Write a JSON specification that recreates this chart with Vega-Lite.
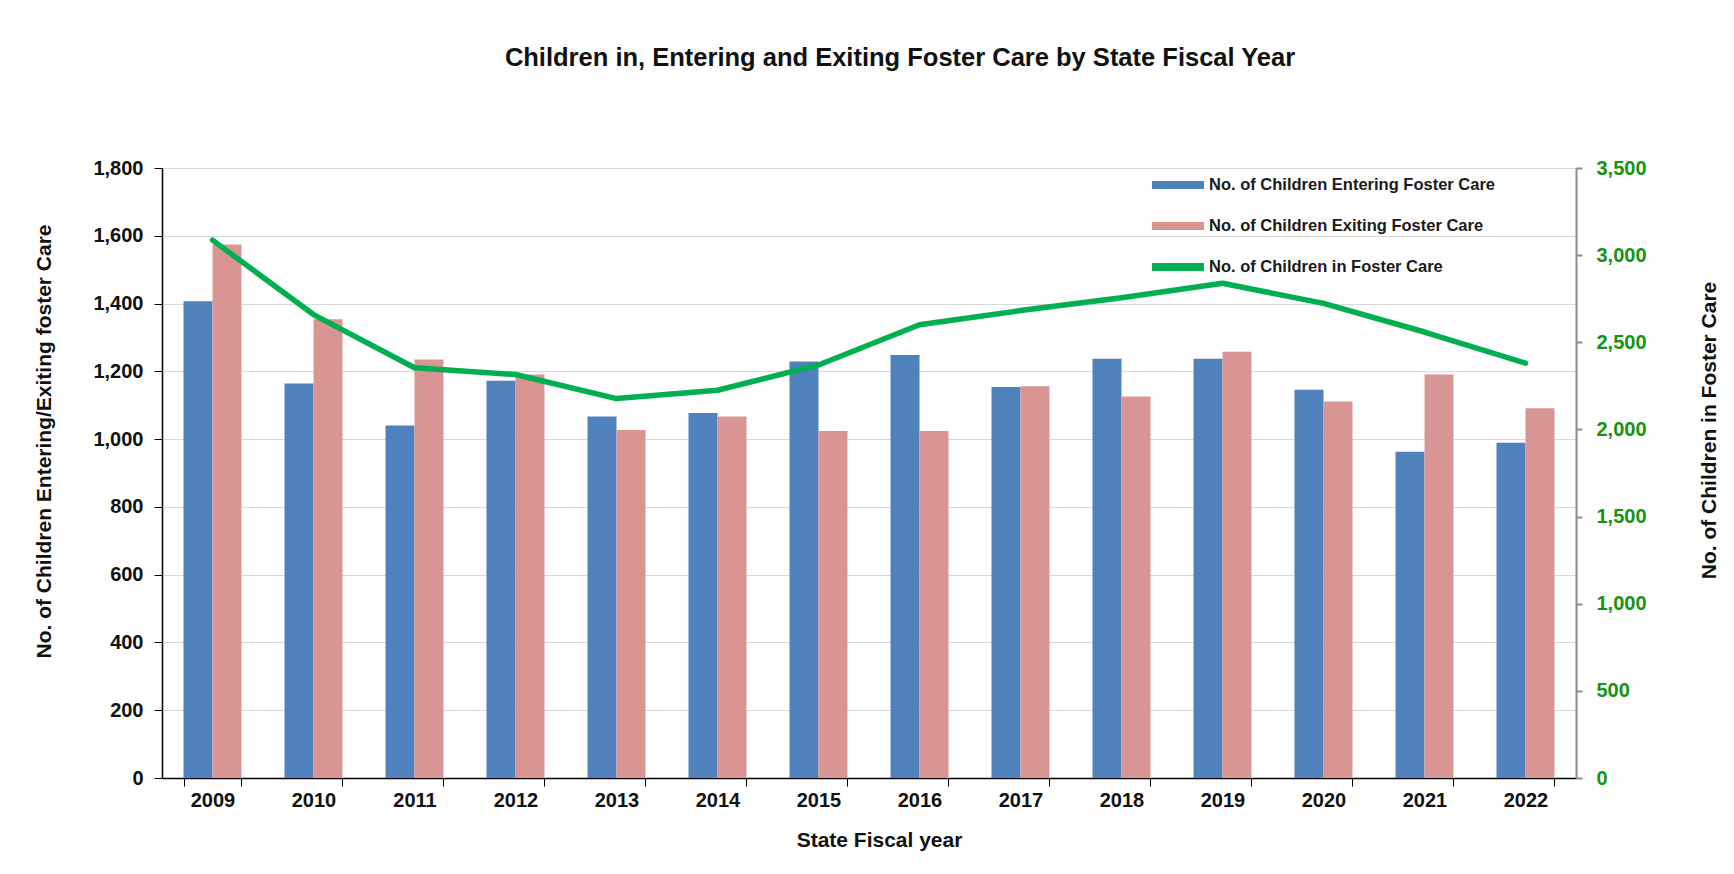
{
  "$schema": "https://vega.github.io/schema/vega-lite/v6.json",
  "width": 1414,
  "height": 610,
  "autosize": "none",
  "padding": {"left": 162, "top": 168, "right": 158, "bottom": 96},
  "background": "white",
  "config": {
    "font": "Liberation Sans",
    "view": {"stroke": null}
  },
  "title": {
    "text": "Children in, Entering and Exiting Foster Care by State Fiscal Year",
    "font": "Liberation Sans",
    "fontSize": 25.5,
    "fontWeight": "bold",
    "color": "#111111",
    "anchor": "middle",
    "offset": 87,
    "dx": 31
  },
  "data": {
    "values": [
      {"year": "2009", "entering": 1407, "exiting": 1574, "in_care": 3086},
      {"year": "2010", "entering": 1164, "exiting": 1354, "in_care": 2659},
      {"year": "2011", "entering": 1040, "exiting": 1235, "in_care": 2354},
      {"year": "2012", "entering": 1172, "exiting": 1191, "in_care": 2315},
      {"year": "2013", "entering": 1067, "exiting": 1027, "in_care": 2177},
      {"year": "2014", "entering": 1077, "exiting": 1067, "in_care": 2225},
      {"year": "2015", "entering": 1229, "exiting": 1024, "in_care": 2370},
      {"year": "2016", "entering": 1248, "exiting": 1024, "in_care": 2601},
      {"year": "2017", "entering": 1154, "exiting": 1156, "in_care": 2682},
      {"year": "2018", "entering": 1237, "exiting": 1126, "in_care": 2755},
      {"year": "2019", "entering": 1237, "exiting": 1258, "in_care": 2839},
      {"year": "2020", "entering": 1146, "exiting": 1111, "in_care": 2723},
      {"year": "2021", "entering": 963, "exiting": 1191, "in_care": 2559},
      {"year": "2022", "entering": 989, "exiting": 1091, "in_care": 2380}
    ]
  },
  "encoding": {
    "x": {
      "field": "year",
      "type": "ordinal",
      "scale": {"paddingInner": 0.426, "paddingOuter": 0.213},
      "axis": {
        "title": "State Fiscal year",
        "titleFont": "Liberation Sans",
        "titleFontSize": 21,
        "titleFontWeight": "bold",
        "titleColor": "#111111",
        "titleX": 717,
        "titleY": 62,
        "titleBaseline": "middle",
        "labelAngle": 0,
        "labelFont": "Liberation Sans",
        "labelFontSize": 20,
        "labelFontWeight": "bold",
        "labelColor": "#111111",
        "labelPadding": 4,
        "tickBand": "extent",
        "tickSize": 8,
        "tickColor": "#000000",
        "domainColor": "#000000",
        "domainWidth": 1.5,
        "grid": false
      }
    }
  },
  "layer": [
    {
      "transform": [{"fold": ["entering", "exiting"], "as": ["series", "value"]}],
      "mark": {"type": "bar"},
      "encoding": {
        "xOffset": {"field": "series", "type": "nominal", "scale": {"paddingInner": 0, "paddingOuter": 0}},
        "y": {
          "field": "value",
          "type": "quantitative",
          "scale": {"domain": [0, 1800], "nice": false},
          "axis": {
            "values": [0, 200, 400, 600, 800, 1000, 1200, 1400, 1600, 1800],
            "format": ",d",
            "title": "No. of Children Entering/Exiting foster Care",
            "titleFont": "Liberation Sans",
            "titleFontSize": 21,
            "titleFontWeight": "bold",
            "titleColor": "#111111",
            "titleAngle": -90,
            "titleX": -118,
            "titleY": 273,
            "titleAlign": "center",
            "titleBaseline": "middle",
            "labelFont": "Liberation Sans",
            "labelFontSize": 20,
            "labelFontWeight": "bold",
            "labelColor": "#111111",
            "labelPadding": 11,
            "tickSize": 8,
            "tickColor": "#000000",
            "domainColor": "#000000",
            "domainWidth": 1.5,
            "grid": true,
            "gridColor": "#D9D9D9",
            "gridWidth": 1.2
          }
        },
        "color": {
          "field": "series",
          "type": "nominal",
          "scale": {"domain": ["entering", "exiting", "in_care"], "range": ["#4F81BD", "#D99594", "#00B050"]},
          "legend": {
            "orient": "none",
            "legendX": 990,
            "legendY": -9,
            "title": null,
            "direction": "vertical",
            "labelExpr": "datum.label == 'entering' ? 'No. of Children Entering Foster Care' : datum.label == 'exiting' ? 'No. of Children Exiting Foster Care' : 'No. of Children in Foster Care'",
            "labelFont": "Liberation Sans",
            "labelFontSize": 16.5,
            "labelFontWeight": "bold",
            "labelColor": "#1a1a1a",
            "labelLimit": 500,
            "labelOffset": 5,
            "symbolType": "M -1 -0.15 L 1 -0.15 L 1 0.15 L -1 0.15 Z",
            "symbolSize": 2704,
            "symbolStrokeWidth": 0,
            "rowPadding": 6
          }
        }
      }
    },
    {
      "mark": {"type": "line", "strokeWidth": 5.5, "strokeCap": "round", "strokeJoin": "round"},
      "encoding": {
        "y": {
          "field": "in_care",
          "type": "quantitative",
          "scale": {"domain": [0, 3500], "nice": false},
          "axis": {
            "orient": "right",
            "values": [0, 500, 1000, 1500, 2000, 2500, 3000, 3500],
            "format": ",d",
            "title": "No. of Children in Foster Care",
            "titleFont": "Liberation Sans",
            "titleFontSize": 21,
            "titleFontWeight": "bold",
            "titleColor": "#111111",
            "titleAngle": -90,
            "titleX": 133,
            "titleY": 262,
            "titleAlign": "center",
            "titleBaseline": "middle",
            "labelFont": "Liberation Sans",
            "labelFontSize": 20,
            "labelFontWeight": "bold",
            "labelColor": "#129512",
            "labelPadding": 14,
            "tickSize": 6,
            "tickColor": "#8C8C8C",
            "tickWidth": 2,
            "domainColor": "#8C8C8C",
            "domainWidth": 2,
            "grid": false
          }
        },
        "color": {"datum": "in_care"}
      }
    }
  ],
  "resolve": {"scale": {"y": "independent"}}
}
